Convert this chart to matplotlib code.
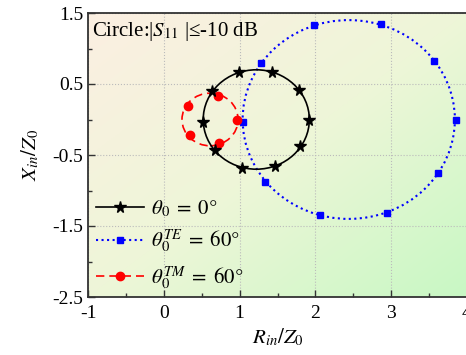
import numpy as np
import matplotlib
matplotlib.use('Agg')
import matplotlib.pyplot as plt
from matplotlib.patches import Circle
from matplotlib.lines import Line2D
from matplotlib.colors import LinearSegmentedColormap

plt.rcParams['font.family'] = ['Liberation Serif', 'DejaVu Serif']
plt.rcParams['mathtext.fontset'] = 'stix'

# theta0 = 0 deg (normal incidence)
r_0 = [0.99, 1.43, 1.78, 1.92, 1.80, 1.47, 1.03, 0.67, 0.52, 0.64]
x_0 = [0.67, 0.67, 0.42, 0.00, -0.37, -0.65, -0.68, -0.43, -0.03, 0.40]
circ_0 = [1.22, 0.0, 0.70]   # centre R, centre X, radius

# theta0 = 60 deg, TE
r_te = [1.98, 2.86, 3.57, 3.85, 3.62, 2.94, 2.06, 1.33, 1.04, 1.28]
x_te = [1.33, 1.34, 0.83, 0.00, -0.76, -1.32, -1.35, -0.88, -0.04, 0.80]
circ_te = [2.44, 0.0, 1.40]

# theta0 = 60 deg, TM
r_tm = [0.32, 0.71, 0.96, 0.73, 0.34]
x_tm = [0.19, 0.33, 0.00, -0.33, -0.22]
circ_tm = [0.61, 0.0, 0.37]

labels = [r'$\theta_0\;=\;0°$', r'$\theta_0^{TE}\;=\;60°$', r'$\theta_0^{TM}\;=\;60°$']

fig = plt.figure(figsize=(4.66, 3.55), dpi=100)
ax = fig.add_axes([88/466, 1-297/355, (467-88)/466, (297-13)/355])

# soft diagonal background
cmap = LinearSegmentedColormap.from_list('bg', ['#fcefe2', '#eef6d8', '#c8f8c4'])
gx, gy = np.meshgrid(np.linspace(0, 1, 200), np.linspace(1, 0, 200))
ax.imshow((gx + (1 - gy)) / 2, cmap=cmap, extent=[0, 1, 0, 1], transform=ax.transAxes,
          aspect='auto', zorder=0, interpolation='bilinear')

ax.add_patch(Circle((circ_te[0], circ_te[1]), circ_te[2], fill=False, ec='blue', lw=1.5, ls=':', zorder=2))
ax.add_patch(Circle((circ_0[0], circ_0[1]), circ_0[2], fill=False, ec='black', lw=1.2, zorder=3))
ax.add_patch(Circle((circ_tm[0], circ_tm[1]), circ_tm[2], fill=False, ec='red', lw=1.2, ls=(0, (5, 3)), zorder=2))

ax.plot(r_te, x_te, ls='none', marker='s', ms=5, color='blue', zorder=4)
ax.plot(r_0, x_0, ls='none', marker='*', ms=8.5, color='black', zorder=5)
ax.plot(r_tm, x_tm, ls='none', marker='o', ms=6, color='red', zorder=4)

handles = [Line2D([], [], color='black', lw=1.2, marker='*', ms=8.5),
           Line2D([], [], color='blue', lw=1.5, ls=':', marker='s', ms=5),
           Line2D([], [], color='red', lw=1.2, ls=(0, (5, 3)), marker='o', ms=6)]
ax.legend(handles, labels, loc='lower left', bbox_to_anchor=(-0.023, -0.04), frameon=False,
          fontsize=15, handlelength=2.3, handletextpad=0.35, labelspacing=0.42, borderpad=0.3)

ax.text(0.01, 0.975, r'Circle:|$S_{11}$ |≤-10 dB', transform=ax.transAxes, fontsize=15,
        ha='left', va='top', zorder=6)

ax.set_xlim(-1, 4)
ax.set_ylim(-2.5, 1.5)
ax.set_xticks([-1, 0, 1, 2, 3, 4])
ax.set_xticks([-0.5, 0.5, 1.5, 2.5, 3.5], minor=True)
ax.set_yticks([-2.5, -1.5, -0.5, 0.5, 1.5])
ax.set_yticks([-2, -1, 0, 1], minor=True)
ax.set_yticklabels(['-2.5', '-1.5', '-0.5', '0.5', '1.5'])
ax.set_xticklabels(['-1', '0', '1', '2', '3', '4'])
ax.tick_params(which='both', direction='in', labelsize=14, top=False, right=False, color='#333333')
ax.tick_params(which='major', length=5, width=1)
ax.tick_params(which='minor', length=3, width=1)
ax.tick_params(axis='x', pad=6)
ax.grid(True, which='major', ls=':', color='#bbbbbb', lw=0.8, zorder=1)
for s in ax.spines.values():
    s.set_linewidth(1.3)
    s.set_color('#333333')

ax.set_xlabel(r'$R_{in}/Z_0$', fontsize=15, labelpad=3)
ax.set_ylabel(r'$X_{in}/Z_0$', fontsize=15, labelpad=8)

fig.savefig('out.png', dpi=100)
